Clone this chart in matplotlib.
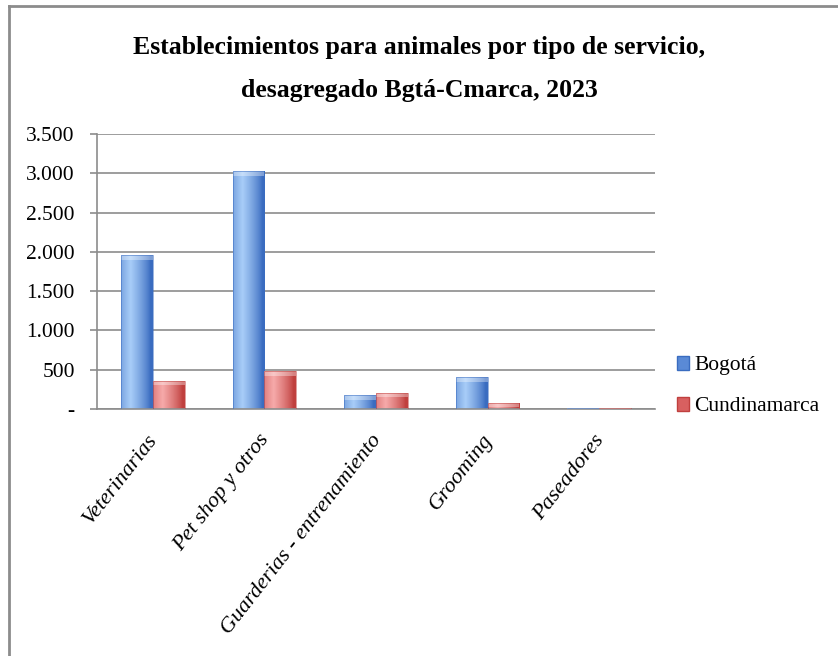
import matplotlib as mpl
mpl.use('Agg')
import matplotlib.pyplot as plt
import matplotlib.transforms as mtransforms
import numpy as np
from matplotlib.patches import Rectangle
from matplotlib.lines import Line2D

categorias = ["Veterinarias", "Pet shop y otros", "Guarderias - entrenamiento",
              "Grooming", "Paseadores"]
bogota = [1960, 3030, 178, 410, 15]
cundinamarca = [360, 483, 207, 80, 18]
series = ["Bogotá", "Cundinamarca"]
yticks = [0, 500, 1000, 1500, 2000, 2500, 3000, 3500]

plt.rcParams['font.family'] = ['Liberation Serif', 'DejaVu Serif']

fig = plt.figure(figsize=(8.38, 6.56), dpi=100)
ax = fig.add_axes([0.1158, 0.3765, 0.6658, 0.4192])

# marco de la figura (solo izquierda y arriba visibles)
fig.add_artist(Line2D([0.0105, 0.0105], [0, 0.9915], transform=fig.transFigure,
                      color='#8c8c8c', lw=2))
fig.add_artist(Line2D([0.0105, 1], [0.9915, 0.9915], transform=fig.transFigure,
                      color='#8c8c8c', lw=2))


def grad_bar(ax, x, h, w, light, dark):
    rect = Rectangle((x, 0), w, h, facecolor='none', edgecolor='none')
    ax.add_patch(rect)
    t = np.linspace(0, 1, 64)
    prof = np.clip(1 - 1.6 * np.abs(t - 0.3), 0, 1) ** 0.8
    l = np.array(mpl.colors.to_rgb(light))
    d = np.array(mpl.colors.to_rgb(dark))
    cols = d[None, :] + (l - d)[None, :] * prof[:, None]
    img = np.tile(cols[None, :, :], (2, 1, 1))
    im = ax.imshow(img, extent=(x, x + w, 0, h), aspect='auto',
                   interpolation='bilinear', zorder=2, origin='lower')
    im.set_clip_path(rect)
    # tapa superior mas clara
    cap = min(h, 60)
    ax.add_patch(Rectangle((x, h - cap), w, cap, facecolor='white', alpha=0.35,
                           edgecolor='none', zorder=3))
    ax.add_patch(Rectangle((x, 0), w, h, facecolor='none', edgecolor=dark,
                           lw=0.6, alpha=0.6, zorder=3))


x = np.arange(len(categorias))
w = 0.285
for i in x:
    grad_bar(ax, i - w, bogota[i], w, '#a8cdf8', '#3a6cc0')
    grad_bar(ax, i, cundinamarca[i], w, '#f6aaaa', '#c0403e')

ax.set_xlim(-0.5, len(categorias) - 0.5)
ax.set_ylim(0, 3500)
ax.set_yticks(yticks)
ax.set_yticklabels(['-' if v == 0 else f"{v:,}".replace(',', '.') for v in yticks],
                   fontsize=15.5)
ax.yaxis.grid(True, color='#8c8c8c', lw=1.2)
ax.set_axisbelow(True)
ax.set_xticks(x)
ax.set_xticklabels([])
ax.tick_params(axis='x', length=0)
ax.tick_params(axis='y', length=5, color='#8c8c8c', width=1.2, pad=11)

# etiquetas de categoria rotadas
off = mtransforms.ScaledTranslation(-6 / 100, -22 / 100, fig.dpi_scale_trans)
for i, c in zip(x, categorias):
    ax.text(i, 0, c, transform=ax.get_xaxis_transform() + off, rotation=52,
            ha='right', va='top', rotation_mode='anchor', fontsize=16,
            style='italic')

for s in ['top', 'right']:
    ax.spines[s].set_visible(False)
for s in ['left', 'bottom']:
    ax.spines[s].set_color('#8c8c8c')
    ax.spines[s].set_linewidth(1.2)

fig.text(0.5, 0.895, "Establecimientos para animales por tipo de servicio,\ndesagregado Bgtá-Cmarca, 2023",
         ha='center', va='center', fontsize=18.5, fontweight='bold', linespacing=2.1)

handles = [Rectangle((0, 0), 1, 1, facecolor='#5a8ad6', edgecolor='#3a6cc0'),
           Rectangle((0, 0), 1, 1, facecolor='#d86060', edgecolor='#c0403e')]
fig.legend(handles, series, loc='upper left', bbox_to_anchor=(0.785, 0.487),
           frameon=False, fontsize=15.5, handlelength=0.55, handleheight=0.6,
           handletextpad=0.25, labelspacing=1.0)

fig.savefig("out.png", dpi=100)
